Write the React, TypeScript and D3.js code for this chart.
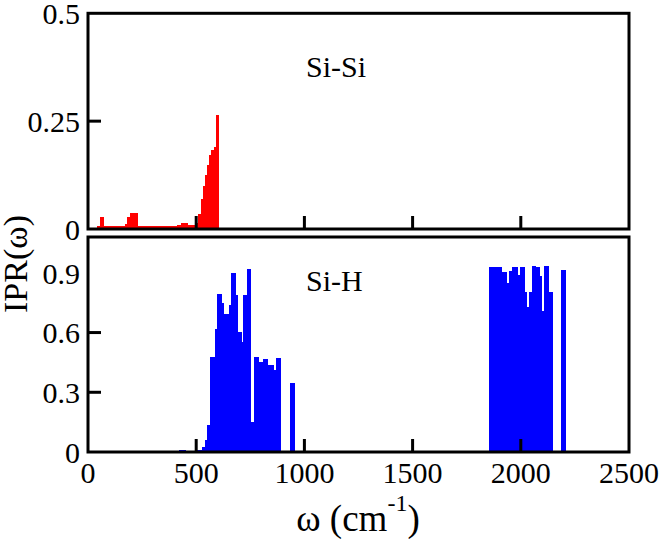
import React from 'react';
import * as d3 from 'd3';

// step bins: each bar runs from omega[i] to omega[i+1] with height ipr[i]
const siSiOmega = [40, 55, 75, 170, 180, 195, 230, 300, 410, 430, 460, 500, 510, 520, 530, 540, 550, 560, 570, 580, 590, 607];
const siSiIpr = [0.006, 0.028, 0.006, 0.012, 0.028, 0.038, 0.006, 0.007, 0.01, 0.015, 0.009, 0.014, 0.035, 0.07, 0.1, 0.125, 0.148, 0.172, 0.183, 0.19, 0.265, 0];

const siHOmega = [420, 455, 505, 525, 540, 551, 563, 587, 597, 620, 630, 651, 663, 684, 692, 710, 718, 733, 753, 765, 790, 810, 833, 858, 871, 891, 933, 956,
  1853, 1890, 1914, 1934, 1945, 1960, 1985, 1995, 2018, 2030, 2039, 2050, 2072, 2088, 2099, 2107, 2131, 2149, 2185, 2208];
const siHIpr = [0.01, 0, 0.01, 0.027, 0.06, 0.136, 0.476, 0.62, 0.794, 0.747, 0.693, 0.739, 0.9, 0.79, 0.605, 0.554, 0.79, 0.918, 0.152, 0.476, 0.454, 0.465, 0.437, 0.412, 0.47, 0, 0.348, 0,
  0.928, 0.931, 0.906, 0.848, 0.91, 0.931, 0.889, 0.928, 0.805, 0.727, 0.805, 0.935, 0.928, 0.884, 0.71, 0.935, 0.805, 0, 0.915, 0];

const xTicks = [0, 500, 1000, 1500, 2000, 2500];
const topYTicks = [0, 0.25, 0.5];
const topYLabels = ['0', '0.25', '0.5'];
const bottomYTicks = [0, 0.3, 0.6, 0.9];
const bottomYLabels = ['0', '0.3', '0.6', '0.9'];

const W = 664;
const H = 539;
const font = '"Liberation Serif", "Times New Roman", serif';

const x = d3.scaleLinear().domain([0, 2500]).range([88, 629]);
const yTop = d3.scaleLinear().domain([0, 0.5]).range([229, 13.3]);
const yBot = d3.scaleLinear().domain([0, 1.08]).range([452, 237]);

function Bars({ omega, ipr, y, color }: { omega: number[]; ipr: number[]; y: d3.ScaleLinear<number, number>; color: string }) {
  return (
    <g fill={color} shapeRendering="crispEdges">
      {ipr.slice(0, -1).map((v, i) =>
        v > 0 ? (
          <rect key={i} x={x(omega[i])} width={x(omega[i + 1]) - x(omega[i])} y={y(v)} height={y(0) - y(v)} />
        ) : null
      )}
    </g>
  );
}

function Frame({ y, yTicks, yLabels, showX }: { y: d3.ScaleLinear<number, number>; yTicks: number[]; yLabels: string[]; showX: boolean }) {
  const [y0, y1] = y.range();
  return (
    <g stroke="#000" strokeWidth={3} fill="none">
      <rect x={x(0)} y={y1} width={x(2500) - x(0)} height={y0 - y1} />
      {xTicks.slice(1, -1).map(t => (
        <line key={'x' + t} x1={x(t)} x2={x(t)} y1={y0} y2={y0 - 13} />
      ))}
      {yTicks.slice(1, -1).map(t => (
        <line key={'y' + t} x1={x(0)} x2={x(0) + 13} y1={y(t)} y2={y(t)} />
      ))}
      <g stroke="none" fill="#000" fontFamily={font} fontSize={30}>
        {yTicks.map((t, i) => (
          <text key={'yl' + t} x={80} y={y(t)} dy="0.36em" textAnchor="end">{yLabels[i]}</text>
        ))}
        {showX && xTicks.map(t => (
          <text key={'xl' + t} x={x(t)} y={483} textAnchor="middle">{t}</text>
        ))}
      </g>
    </g>
  );
}

export default function App() {
  return (
    <svg width={W} height={H} style={{ position: 'absolute', left: 0, top: 0, background: '#fff' }}>
      <Bars omega={siSiOmega} ipr={siSiIpr} y={yTop} color="#ff0000" />
      <Bars omega={siHOmega} ipr={siHIpr} y={yBot} color="#0000ff" />
      <Frame y={yTop} yTicks={topYTicks} yLabels={topYLabels} showX={false} />
      <Frame y={yBot} yTicks={bottomYTicks} yLabels={bottomYLabels} showX={true} />
      <g fontFamily={font} fill="#000">
        <text x={306} y={77} fontSize={30}>Si-Si</text>
        <text x={306} y={291} fontSize={30}>Si-H</text>
        <text x={358} y={531} fontSize={37} textAnchor="middle">
          ω (cm<tspan fontSize={24} dy={-20}>-1</tspan><tspan dy={20}>)</tspan>
        </text>
        <text transform="translate(27,264) rotate(-90)" fontSize={34} textAnchor="middle">IPR(ω)</text>
      </g>
    </svg>
  );
}
